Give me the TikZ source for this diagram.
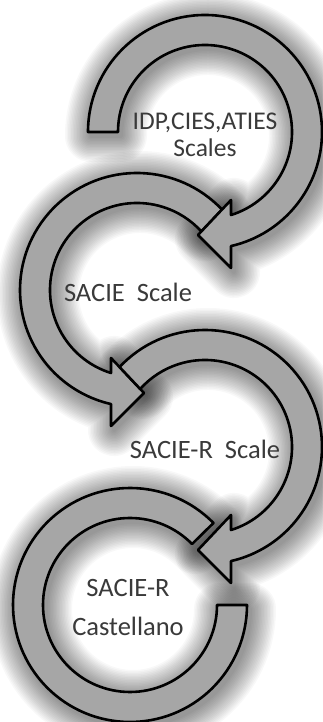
\documentclass[tikz,border=0pt]{standalone}
\usepackage{fontspec}
\setmainfont{Carlito}
\definecolor{bandgray}{RGB}{166,166,166}
\definecolor{labelgray}{RGB}{58,58,58}

% Ring geometry (outer radius 117, inner radius 87), drawn around the origin.
% Clockwise ring ending in a left-pointing head; #1/#2 = tail angles (outer/inner).
\newcommand\ringCW[2]{(#1:117) arc[start angle=#1, end angle=-77.16, radius=117]
  -- (26,-136) -- (-7,-103) -- (26,-68) -- (-72.6:87)
  arc[start angle=-72.6, end angle=#2, radius=87] -- cycle}
% Counter-clockwise ring ending in a right-pointing head.
\newcommand\ringCCW[2]{(#1:117) arc[start angle=#1, end angle=257.16, radius=117]
  -- (-26,-136) -- (7,-103) -- (-26,-68) -- (252.6:87)
  arc[start angle=252.6, end angle=#2, radius=87] -- cycle}
% Open ring without a head.
\newcommand\ringOpen{(44.5:117) arc[start angle=44.5, end angle=360, radius=117]
  -- (0:87) arc[start angle=360, end angle=44.5, radius=87] -- cycle}

% Soft drop shadow: stacked, widening translucent copies of a ring.
\newcommand\softshadow[2]{%
  \foreach \w in {52,49,...,4}{%
    \begin{scope}[shift={#1}, shift={(3,-4)}, transparency group, opacity=0.026]
      \filldraw[halo, line width=\w pt] #2;
    \end{scope}}}

\begin{document}
\begin{tikzpicture}[x=1pt, y=1pt,
  ring/.style={fill=bandgray, draw=black, line width=2.6pt, line join=round},
  halo/.style={fill=black, draw=black, line join=round, line cap=round},
  label/.style={text=labelgray, align=center, inner sep=0pt,
    font=\fontsize{26.5}{30}\selectfont}]
\useasboundingbox (0,0) rectangle (322,722);
\fill[white] (0,0) rectangle (322,722);

% shadows
\softshadow{(205,590)}{\ringCW{180}{180}}
\softshadow{(137,432)}{\ringCCW{43.4}{42.3}}
\softshadow{(205,275)}{\ringCW{136.9}{138.15}}
\softshadow{(130,117)}{\ringOpen}

% rings
\begin{scope}[shift={(137,432)}]
  \path[ring] \ringCCW{43.4}{42.3};
\end{scope}
\begin{scope}[shift={(205,590)}]
  \path[ring] \ringCW{180}{180};
\end{scope}
\begin{scope}[shift={(205,275)}]
  \path[ring] \ringCW{136.9}{138.15};
\end{scope}
\begin{scope}[shift={(130,117)}]
  \path[ring] \ringOpen;
\end{scope}

% labels
\node[label, font=\fontsize{25.5}{27}\selectfont] (idp) at (205,587) {IDP,CIES,ATIES\\Scales};
\node[label] (sacie) at (128,430) {SACIE\ \ Scale};
\node[label] (sacier) at (205,273) {SACIE-R\ \ Scale};
\node[label, font=\fontsize{26.5}{39}\selectfont] (cast) at (128,114) {SACIE-R\\Castellano};
\end{tikzpicture}
\end{document}
